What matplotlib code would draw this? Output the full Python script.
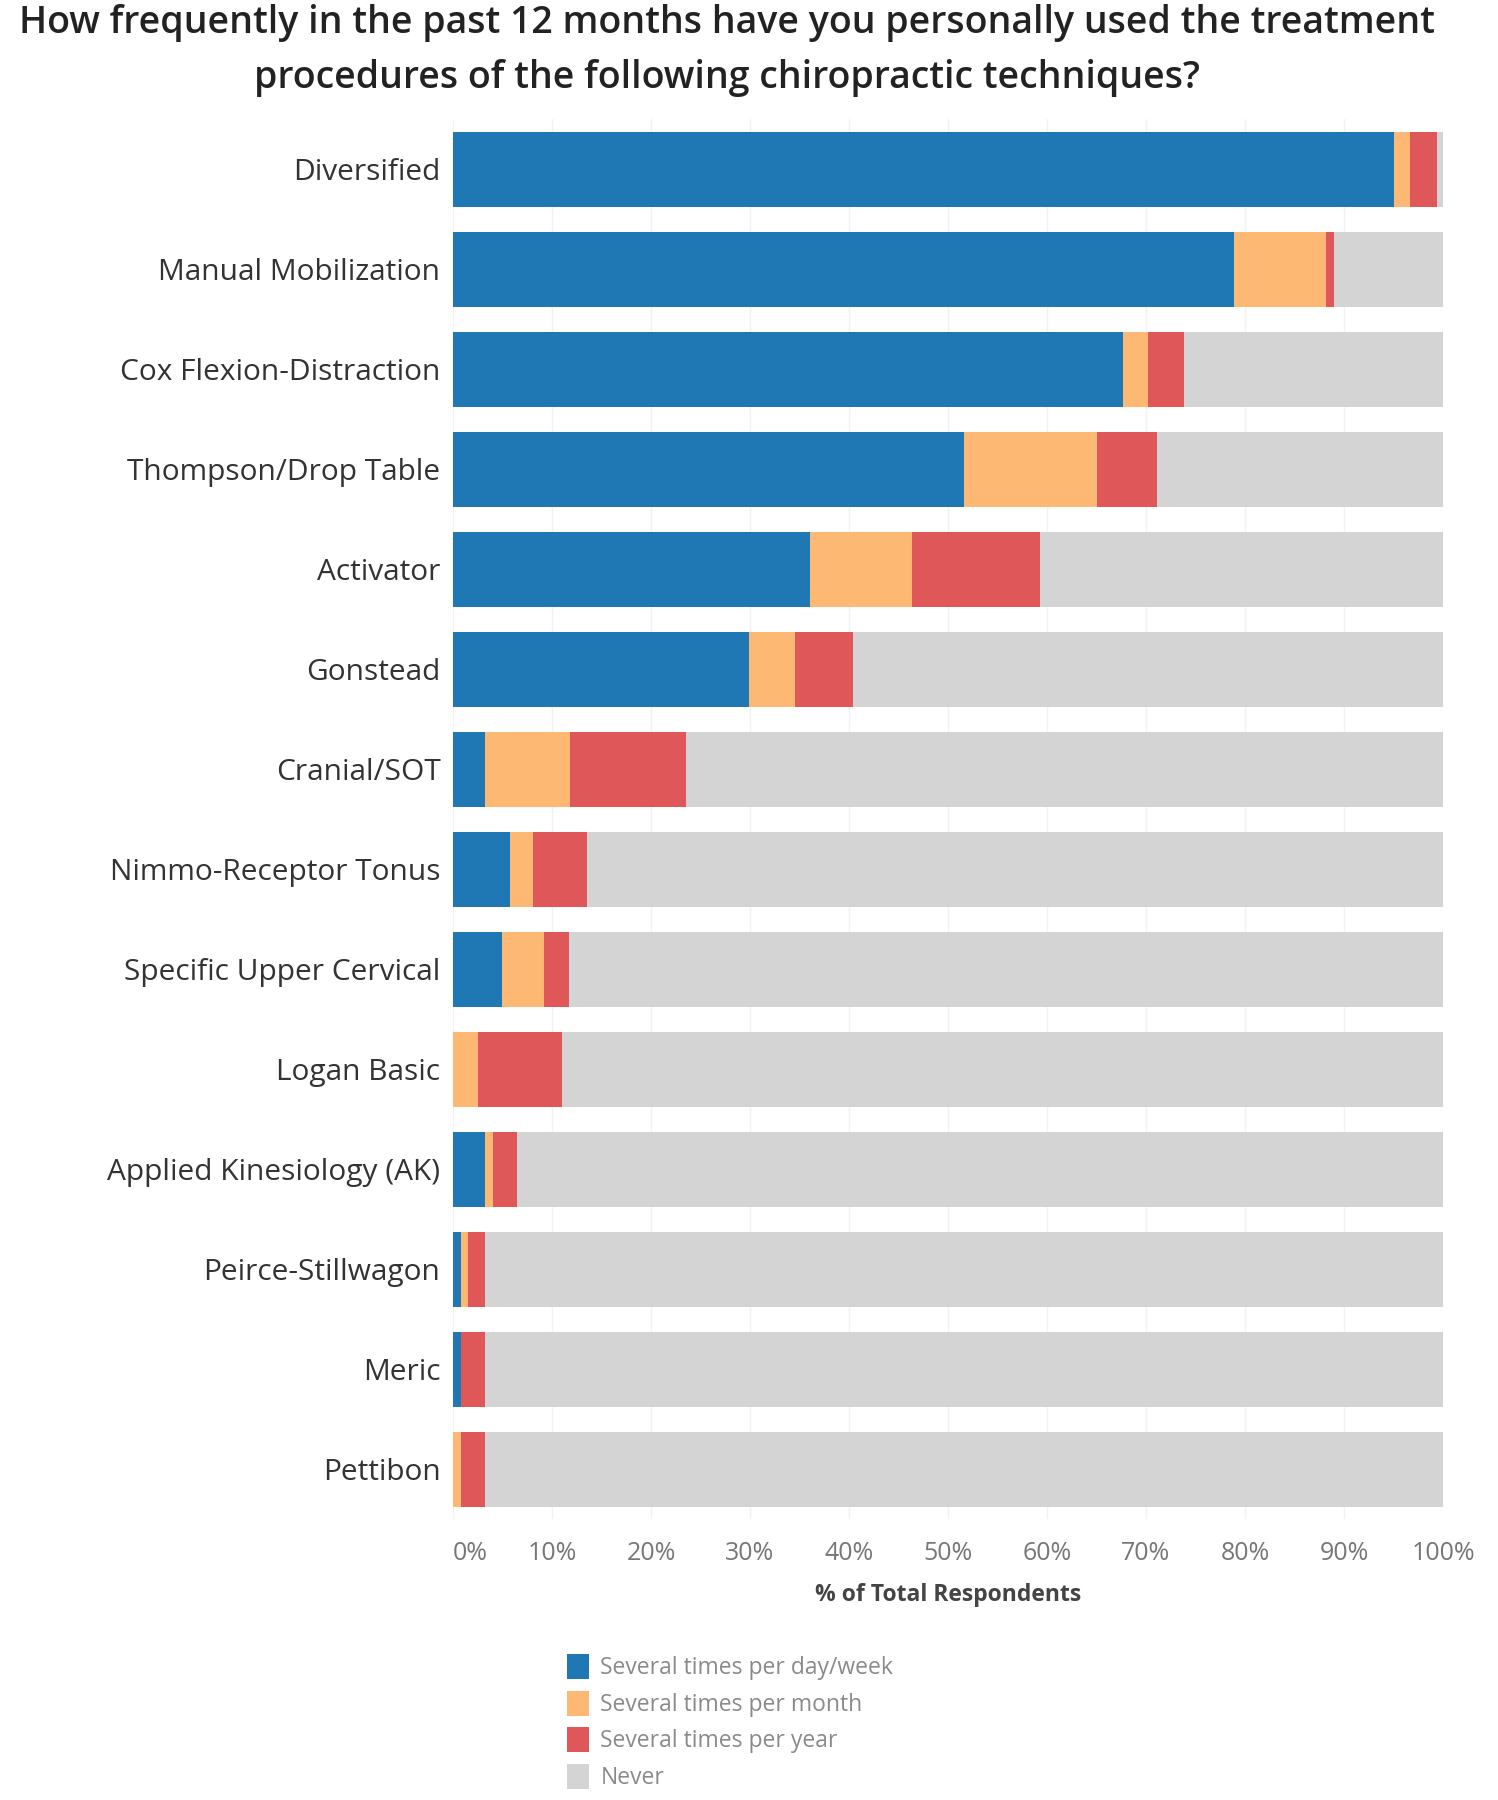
import matplotlib
matplotlib.use("Agg")
import matplotlib.pyplot as plt
from matplotlib.patches import Patch
import numpy as np

plt.rcParams['font.family'] = ['Open Sans', 'DejaVu Sans']

# survey data (% of total respondents)
techniques = ["Diversified", "Manual Mobilization", "Cox Flexion-Distraction",
              "Thompson/Drop Table", "Activator", "Gonstead", "Cranial/SOT",
              "Nimmo-Receptor Tonus", "Specific Upper Cervical", "Logan Basic",
              "Applied Kinesiology (AK)", "Peirce-Stillwagon", "Meric", "Pettibon"]
day_week = [95.0, 78.9, 67.7, 51.6, 36.1, 29.9, 3.2, 5.8, 4.9, 0.0, 3.2, 0.8, 0.8, 0.0]
per_month = [1.7, 9.3, 2.5, 13.5, 10.3, 4.6, 8.6, 2.3, 4.3, 2.5, 0.8, 0.7, 0.0, 0.8]
per_year = [2.7, 0.8, 3.6, 6.0, 12.9, 5.9, 11.7, 5.4, 2.5, 8.5, 2.5, 1.7, 2.4, 2.4]

series_names = ["Several times per day/week", "Several times per month",
                "Several times per year", "Never"]
colors = ["#1f77b4", "#fdb974", "#e05759", "#d4d4d4"]

day_week = np.array(day_week)
per_month = np.array(per_month)
per_year = np.array(per_year)
never = 100 - day_week - per_month - per_year

W, H = 1498, 1800
fig = plt.figure(figsize=(W / 100, H / 100), dpi=100)
ax = fig.add_axes([453 / W, 1 - 1519 / H, 990 / W, 1400 / H])

y = np.arange(len(techniques))
left = np.zeros(len(techniques))
for vals, col in zip([day_week, per_month, per_year, never], colors):
    ax.barh(y, vals, left=left, height=0.75, color=col, zorder=2)
    left = left + vals

ax.set_xlim(0, 100)
ax.set_ylim(len(techniques) - 0.5, -0.5)
ax.set_yticks(y)
ax.set_yticklabels(techniques, fontsize=21.5, color="#333333")
ax.set_xticks(np.arange(0, 101, 10))
ax.set_xticklabels([f"{v}%" for v in range(0, 101, 10)], fontsize=18, color="#777777")
ax.get_xticklabels()[0].set_ha("left")
ax.tick_params(axis="y", length=0, pad=9)
ax.tick_params(axis="x", length=0, pad=16)
ax.xaxis.grid(True, color="#f2f2f2", linewidth=1, zorder=0)
for s in ax.spines.values():
    s.set_visible(False)

ax.set_xlabel("% of Total Respondents", fontsize=16.5, fontweight="bold",
              color="#444444", labelpad=12)

fig.text(0.485, 1 - 23 / H,
         "How frequently in the past 12 months have you personally used the treatment",
         ha="center", va="center", fontsize=27, fontweight="semibold", color="#222222")
fig.text(0.485, 1 - 78 / H,
         "procedures of the following chiropractic techniques?",
         ha="center", va="center", fontsize=27, fontweight="semibold", color="#222222")

handles = [Patch(facecolor=c, edgecolor="none") for c in colors]
fig.legend(handles, series_names, loc="upper left",
           bbox_to_anchor=(558 / W, 1 - 1645 / H), frameon=False,
           fontsize=16.5, labelcolor="#8a8a8a", handlelength=0.95,
           handleheight=1.3, handletextpad=0.5, labelspacing=0.45,
           borderaxespad=0)

fig.savefig("out.png", dpi=100)
